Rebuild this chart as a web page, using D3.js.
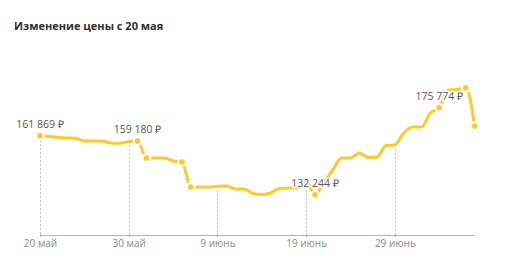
<html>
<head>
    <meta charset="utf-8">
    <title>Изменение цены</title>
    <script src="https://d3js.org/d3.v7.min.js"></script>
    <style>
        body { margin: 0; background: #fff; }
        .title { font-family: "Open Sans", sans-serif; font-size: 11px; font-weight: 700; fill: #2e2f33; }
        .axis path, .axis line { fill: none; stroke: #b3b3b3; shape-rendering: crispEdges; }
        .axis text { font-family: "Open Sans", sans-serif; font-size: 10px; fill: #8a8a8a; }
        .grid { stroke: #c8c8c8; stroke-dasharray: 2,2; shape-rendering: crispEdges; }
        .price-label { font-family: "Open Sans", sans-serif; font-size: 10.5px; fill: #55565a;
            stroke: #fff; stroke-width: 3px; paint-order: stroke; stroke-linejoin: round; }
    </style>
</head>
<body>
<div id="vis_container"></div>
<script>
    // daily prices, from 20 May
    var startDate = new Date(2024, 4, 20);
    var prices = [161869, 161470, 161070, 160720, 160570, 159200, 159200, 159200, 158220, 158070,
                  158970, 159180, 150720, 150720, 150720, 149220, 148720, 136220, 136220, 136220,
                  136470, 136720, 135220, 135220, 132970, 132470, 133220, 135470, 135720, 135720,
                  138720, 132244, 138370, 144720, 150720, 150720, 153220, 150970, 151220, 156970,
                  157220, 163220, 166220, 166220, 173220, 175774, 184720, 184970, 185720, 166720];
    // days that get a marker, and days that get a price label
    var markedDays = [0, 11, 12, 16, 17, 31, 45, 48, 49];
    var labeledDays = [0, 11, 31, 45];
    var tickDays = [0, 10, 20, 30, 40];
    var tickLabels = ["20 май", "30 май", "9 июнь", "19 июнь", "29 июнь"];

    var width = 515, height = 261;
    var axisY = 235;

    function dayDate(i) { return d3.timeDay.offset(startDate, i); }

    var data = prices.map(function(p, i) { return {date: dayDate(i), price: p, day: i}; });

    var svg = d3.select("#vis_container").append("svg")
        .attr("width", width)
        .attr("height", height);

    svg.append("text")
        .attr("class", "title")
        .attr("x", 14)
        .attr("y", 29.5)
        .text("Изменение цены с 20 мая");

    var x = d3.scaleTime()
        .domain([startDate, dayDate(prices.length - 1)])
        .range([40, 474.7]);

    var y = d3.scaleLinear()
        .domain([110000, 190000])
        .range([239.4, 79.4]);

    //dotted gridlines, from the line down to the axis
    svg.selectAll(".grid").data(tickDays).enter().append("line")
        .attr("class", "grid")
        .attr("x1", function(d) { return Math.round(x(dayDate(d))) + 0.5; })
        .attr("x2", function(d) { return Math.round(x(dayDate(d))) + 0.5; })
        .attr("y1", function(d) { return y(prices[d]) + 4; })
        .attr("y2", axisY);

    var axis = svg.append("g")
        .attr("class", "axis")
        .attr("transform", "translate(0," + axisY + ")")
        .call(d3.axisBottom(x)
            .tickValues(tickDays.map(dayDate))
            .tickFormat(function(d, i) { return tickLabels[i]; })
            .tickSizeInner(2)
            .tickSizeOuter(0));
    axis.selectAll(".tick line").attr("y1", -2).attr("y2", 2);
    axis.selectAll(".tick text").attr("y", 5).attr("dy", "0.71em");

    var line = d3.line()
        .x(function(d) { return x(d.date); })
        .y(function(d) { return y(d.price); })
        .curve(d3.curveMonotoneX);

    svg.append("path")
        .datum(data)
        .attr("fill", "none")
        .attr("stroke", "#ffc928")
        .attr("stroke-width", 3)
        .attr("stroke-linecap", "round")
        .attr("stroke-linejoin", "round")
        .attr("d", line);

    svg.selectAll(".dot").data(markedDays.map(function(i) { return data[i]; })).enter().append("circle")
        .attr("class", "dot")
        .attr("cx", function(d) { return x(d.date); })
        .attr("cy", function(d) { return y(d.price); })
        .attr("r", 3.8)
        .attr("fill", "#ffc928")
        .attr("stroke", "#fff")
        .attr("stroke-width", 2);

    svg.selectAll(".price-label").data(labeledDays.map(function(i) { return data[i]; })).enter().append("text")
        .attr("class", "price-label")
        .attr("x", function(d) { return x(d.date); })
        .attr("y", function(d) { return y(d.price) - 8; })
        .attr("text-anchor", "middle")
        .text(function(d) { return d3.format(",")(d.price).replace(/,/g, " ") + " ₽"; });
</script>
</body>
</html>
